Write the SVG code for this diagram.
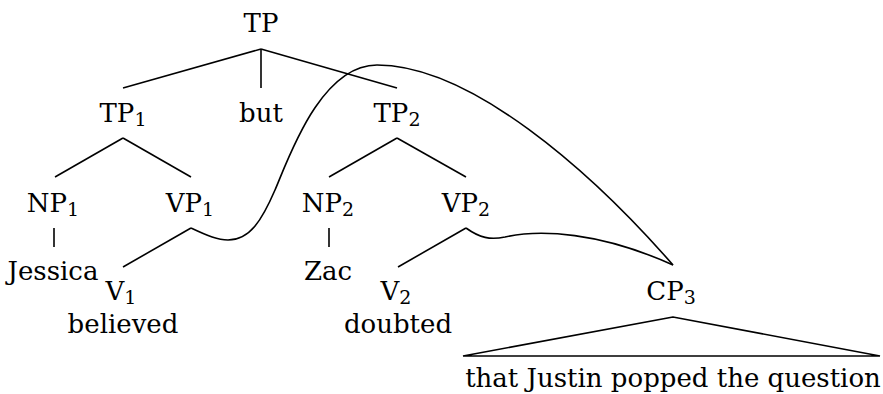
<svg xmlns="http://www.w3.org/2000/svg" width="883" height="394" viewBox="0 0 883 394">
<style>
text{font-family:"DejaVu Serif","Liberation Serif",serif;font-size:26px;fill:#000;text-anchor:middle}
.sub{font-size:19px}
line,path,polygon{stroke:#000;stroke-width:1.6;fill:none}
</style>
<g id="connectors">
<line x1="261" y1="49" x2="123" y2="88"/>
<line x1="261" y1="49" x2="261" y2="88"/>
<line x1="261" y1="49" x2="397" y2="88"/>
<line x1="123" y1="138" x2="55" y2="177"/>
<line x1="123" y1="138" x2="191" y2="177"/>
<line x1="397" y1="138" x2="329" y2="177"/>
<line x1="397" y1="138" x2="466" y2="177"/>
<line x1="54" y1="228" x2="54" y2="247"/>
<line x1="329" y1="228" x2="329" y2="247"/>
<line x1="191" y1="228" x2="123" y2="267"/>
<line x1="466" y1="228" x2="398" y2="267"/>
<path d="M191,228 C208,236 218,240 228,240 C250,240 262,220 275,190 C288,160 320,65 377,65 C470,65 590,170 673,265"/>
<path d="M466,228 C480,238 490,240 505,237 C540,229 600,232 673,265"/>
<polygon points="673,317 463,356 880,356"/>
</g>
<g id="TP"><text x="261" y="32">TP</text></g>
<g id="TP1"><text x="123" y="122">TP<tspan class="sub" dy="4">1</tspan></text></g>
<g id="but"><text x="261" y="122">but</text></g>
<g id="TP2"><text x="397" y="122">TP<tspan class="sub" dy="4">2</tspan></text></g>
<g id="NP1"><text x="53" y="212">NP<tspan class="sub" dy="4">1</tspan></text></g>
<g id="VP1"><text x="190" y="212">VP<tspan class="sub" dy="4">1</tspan></text></g>
<g id="NP2"><text x="328" y="212">NP<tspan class="sub" dy="4">2</tspan></text></g>
<g id="VP2"><text x="466" y="212">VP<tspan class="sub" dy="4">2</tspan></text></g>
<g id="Jessica"><text x="53" y="280">Jessica</text></g>
<g id="V1"><text x="121" y="300">V<tspan class="sub" dy="4">1</tspan></text></g>
<g id="believed"><text x="123" y="333">believed</text></g>
<g id="Zac"><text x="328" y="280">Zac</text></g>
<g id="V2"><text x="396" y="300">V<tspan class="sub" dy="4">2</tspan></text></g>
<g id="doubted"><text x="398" y="333">doubted</text></g>
<g id="CP3"><text x="671" y="300">CP<tspan class="sub" dy="4">3</tspan></text></g>
<g id="clause"><text x="673" y="387">that Justin popped the question</text></g>
</svg>
